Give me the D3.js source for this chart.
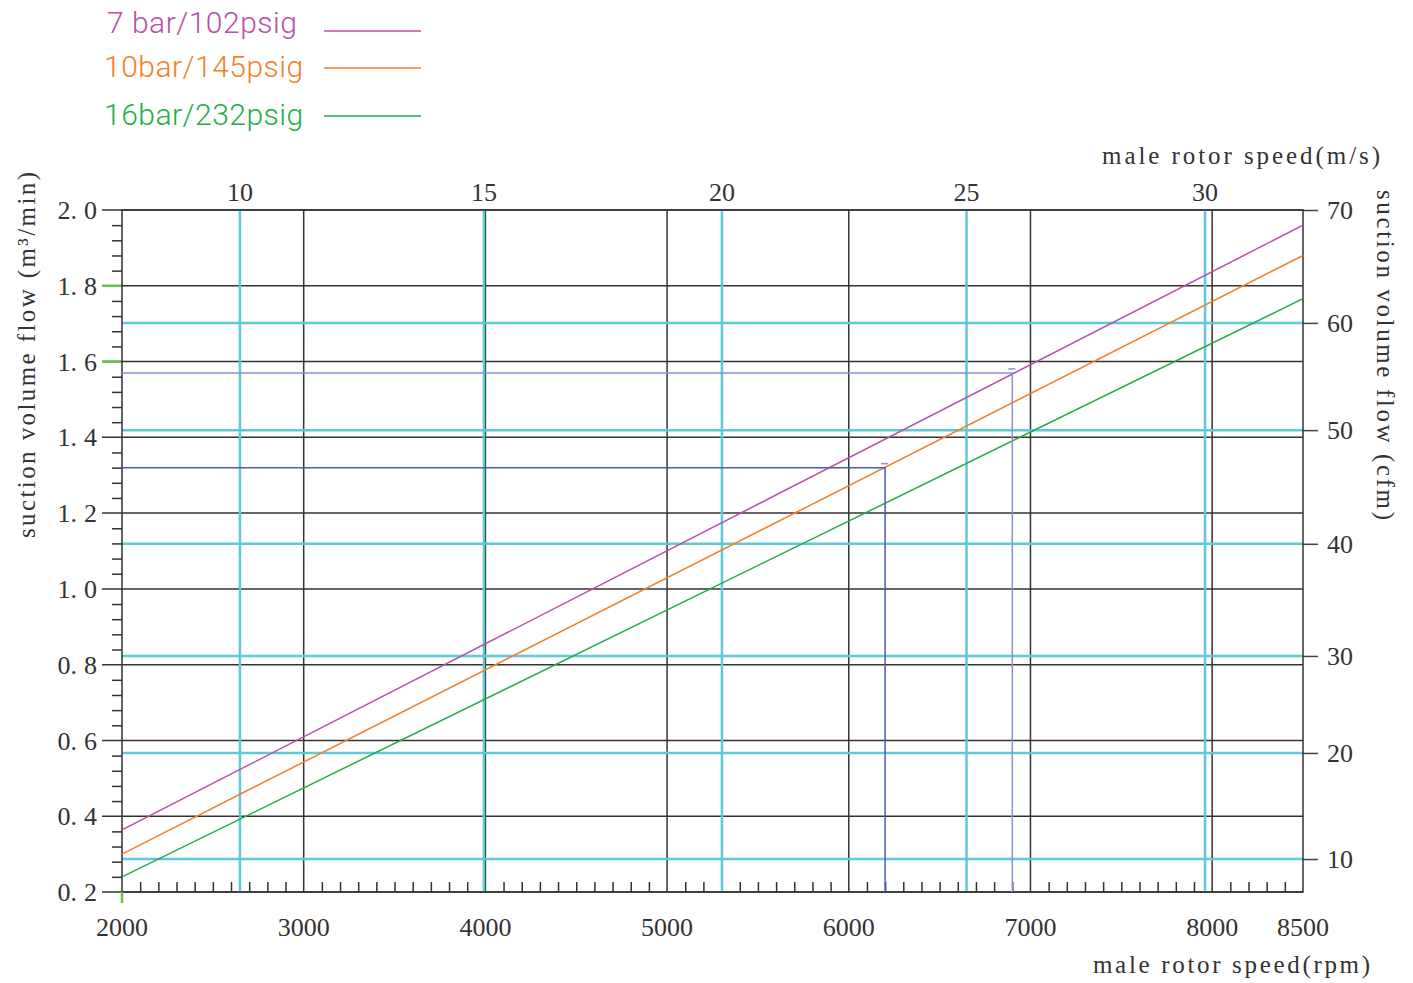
<!DOCTYPE html>
<html>
<head>
<meta charset="utf-8">
<script src="https://cdn.jsdelivr.net/npm/d3@7"></script>
<style>
  body { margin: 0; background: #fff; }
  svg text { font-family: "Liberation Serif", serif; fill: #333; }
  .legend text { font-family: Roboto, sans-serif; font-weight: 300; }
</style>
</head>
<body>
<svg></svg>
<script>
const width = 1413;
const height = 983;
const plotLeft = 122, plotRight = 1303, plotTop = 210, plotBottom = 892;

// data
const rpm = [2000, 8500];
const flow7 = [0.364, 1.960];
const flow10 = [0.300, 1.880];
const flow16 = [0.240, 1.766];
const seriesNames = ["7 bar/102psig", "10bar/145psig", "16bar/232psig"];
const seriesColors = ["#b84fa8", "#f57f26", "#22ad48"];

const rpmTicks = [2000, 3000, 4000, 5000, 6000, 7000, 8000, 8500];
const rpmGrid = [3000, 4000, 5000, 6000, 7000, 8000];
const flowTicks = [0.2, 0.4, 0.6, 0.8, 1.0, 1.2, 1.4, 1.6, 1.8, 2.0];
const greenFlowTicks = [1.6, 1.8];
const msTicks = [10, 15, 20, 25, 30];
// rpm position of each m/s tick as drawn
const msRpm = [2649, 3992, 5302, 6648, 7961];
const cfmTicks = [10, 20, 30, 40, 50, 60, 70];
// m3/min position of each cfm tick as drawn
const cfmFlow = [0.287, 0.567, 0.823, 1.119, 1.419, 1.702, 2.0];

// operating points marked in blue
const markRpm = [6200, 6900];
const markFlow = [1.32, 1.57];
const markColors = ["#4a5cb8", "#8594d2"];

const x = d3.scaleLinear().domain([2000, 8500]).range([plotLeft, plotRight]);
const y = d3.scaleLinear().domain([0.2, 2.0]).range([plotBottom, plotTop]);
const xMs = d3.scaleLinear().domain(msTicks).range(msRpm.map(x));
const yCfm = d3.scaleLinear().domain(cfmTicks).range(cfmFlow.map(y));

const svg = d3.select("svg").attr("width", width).attr("height", height);

// minor ticks
const minorRpm = d3.range(2100, 8500, 100).filter(d => d % 1000 !== 0);
svg.append("g")
  .attr("transform", `translate(0,${plotBottom})`)
  .call(d3.axisTop(x).tickValues(minorRpm).tickSize(10).tickFormat(""))
  .call(g => g.select(".domain").remove())
  .call(g => g.selectAll("line").attr("stroke", "#333").attr("stroke-width", 1.5));

const minorFlow = d3.range(0.24, 2.0, 0.04).filter(d => Math.abs(d * 5 - Math.round(d * 5)) > 0.01);
svg.append("g")
  .attr("transform", `translate(${plotLeft},0)`)
  .call(d3.axisLeft(y).tickValues(minorFlow).tickSize(10).tickFormat(""))
  .call(g => g.select(".domain").remove())
  .call(g => g.selectAll("line").attr("stroke", "#333").attr("stroke-width", 1.5));

// black grid
svg.append("g").selectAll("line")
  .data(rpmGrid).join("line")
  .attr("x1", d => x(d)).attr("x2", d => x(d))
  .attr("y1", plotTop).attr("y2", plotBottom)
  .attr("stroke", "#333").attr("stroke-width", 1.5);

svg.append("g").selectAll("line")
  .data(flowTicks).join("line")
  .attr("x1", plotLeft - 20).attr("x2", plotRight)
  .attr("y1", d => y(d)).attr("y2", d => y(d))
  .attr("stroke", "#333")
  .attr("stroke-width", 1.5);

svg.append("g").selectAll("line")
  .data(greenFlowTicks).join("line")
  .attr("x1", plotLeft - 20).attr("x2", plotLeft)
  .attr("y1", d => y(d)).attr("y2", d => y(d))
  .attr("stroke", "#6cc04a").attr("stroke-width", 2.5);

// cyan grid (m/s and cfm)
svg.append("g").selectAll("line")
  .data(msTicks).join("line")
  .attr("x1", d => xMs(d)).attr("x2", d => xMs(d))
  .attr("y1", plotTop).attr("y2", plotBottom)
  .attr("stroke", "#5ec9d8").attr("stroke-width", 2.5);

svg.append("g").selectAll("line")
  .data(cfmTicks.filter(d => d < 70)).join("line")
  .attr("x1", plotLeft).attr("x2", plotRight)
  .attr("y1", d => yCfm(d)).attr("y2", d => yCfm(d))
  .attr("stroke", "#5ec9d8").attr("stroke-width", 2.5);

// right cfm axis
svg.append("g")
  .attr("transform", `translate(${plotRight},0)`)
  .call(d3.axisRight(yCfm).tickValues(cfmTicks).tickSize(15).tickPadding(9))
  .call(g => g.select(".domain").remove())
  .call(g => g.selectAll("line").attr("stroke", "#444").attr("stroke-width", 1.5))
  .call(g => g.selectAll("text").attr("font-size", 26).attr("font-family", "Liberation Serif").attr("fill", "#333"));

// frame
svg.append("rect")
  .attr("x", plotLeft).attr("y", plotTop)
  .attr("width", plotRight - plotLeft).attr("height", plotBottom - plotTop)
  .attr("fill", "none").attr("stroke", "#333").attr("stroke-width", 1.5);

// left tick labels
const leftLabels = svg.append("g").selectAll("text")
  .data(flowTicks).join("text")
  .attr("x", 97).attr("y", d => y(d))
  .attr("dy", "0.35em")
  .attr("text-anchor", "end")
  .attr("font-size", 26);
leftLabels.append("tspan").text(d => d.toFixed(1).split(".")[0] + ".");
leftLabels.append("tspan").attr("dx", 7).text(d => d.toFixed(1).split(".")[1]);

// bottom tick labels
svg.append("g").selectAll("text")
  .data(rpmTicks).join("text")
  .attr("x", d => x(d)).attr("y", 936)
  .attr("text-anchor", "middle")
  .attr("font-size", 26)
  .text(d => d);

// top tick labels
svg.append("g").selectAll("text")
  .data(msTicks).join("text")
  .attr("x", d => xMs(d)).attr("y", 201)
  .attr("text-anchor", "middle")
  .attr("font-size", 26)
  .text(d => d);

// green tick at origin
svg.append("line")
  .attr("x1", plotLeft).attr("x2", plotLeft)
  .attr("y1", plotBottom).attr("y2", plotBottom + 11)
  .attr("stroke", "#6cc04a").attr("stroke-width", 2.5);

// series lines
const series = [flow7, flow10, flow16];
const line = d3.line().x(d => x(d[0])).y(d => y(d[1]));
svg.append("g").selectAll("path")
  .data(series).join("path")
  .attr("d", s => line(rpm.map((r, i) => [r, s[i]])))
  .attr("fill", "none")
  .attr("stroke", (d, i) => seriesColors[i])
  .attr("stroke-width", 1.5);

// blue operating point lines
markRpm.forEach((r, i) => {
  svg.append("path")
    .attr("d", d3.line()([[x(2000), y(markFlow[i])], [x(r), y(markFlow[i])], [x(r), y(0.2)]]))
    .attr("fill", "none")
    .attr("stroke", markColors[i])
    .attr("stroke-width", 1.5);
  svg.append("line")
    .attr("x1", x(r) - 4).attr("x2", x(r) + 3)
    .attr("y1", y(markFlow[i]) - 4).attr("y2", y(markFlow[i]) - 4)
    .attr("stroke", "#8594d2").attr("stroke-width", 1.5);
});

// axis titles
svg.append("text")
  .attr("x", 1093).attr("y", 973)
  .attr("font-size", 25)
  .attr("textLength", 277).attr("lengthAdjust", "spacing")
  .text("male rotor speed(rpm)");

svg.append("text")
  .attr("x", 1102).attr("y", 164)
  .attr("font-size", 25)
  .attr("textLength", 278).attr("lengthAdjust", "spacing")
  .text("male rotor speed(m/s)");

svg.append("text")
  .attr("transform", "translate(35,538) rotate(-90)")
  .attr("font-size", 25)
  .attr("textLength", 366).attr("lengthAdjust", "spacing")
  .text("suction volume flow (m³/min)");

svg.append("text")
  .attr("transform", "translate(1377,190) rotate(90)")
  .attr("font-size", 25)
  .attr("textLength", 330).attr("lengthAdjust", "spacing")
  .text("suction volume flow (cfm)");

// legend
const legendLineY = [31, 68, 116];
const legendBase = [33, 77, 125];
const legend = svg.append("g").attr("class", "legend");
legend.selectAll("text")
  .data(seriesNames).join("text")
  .attr("x", (d, i) => i === 0 ? 107 : 104)
  .attr("y", (d, i) => legendBase[i])
  .attr("font-size", 30)
  .attr("letter-spacing", 0.5)
  .style("fill", (d, i) => seriesColors[i])
  .text(d => d);
legend.selectAll("line")
  .data(seriesNames).join("line")
  .attr("x1", 324).attr("x2", 421)
  .attr("y1", (d, i) => legendLineY[i]).attr("y2", (d, i) => legendLineY[i])
  .attr("stroke", (d, i) => seriesColors[i])
  .attr("stroke-width", 1.5);
</script>
</body>
</html>
